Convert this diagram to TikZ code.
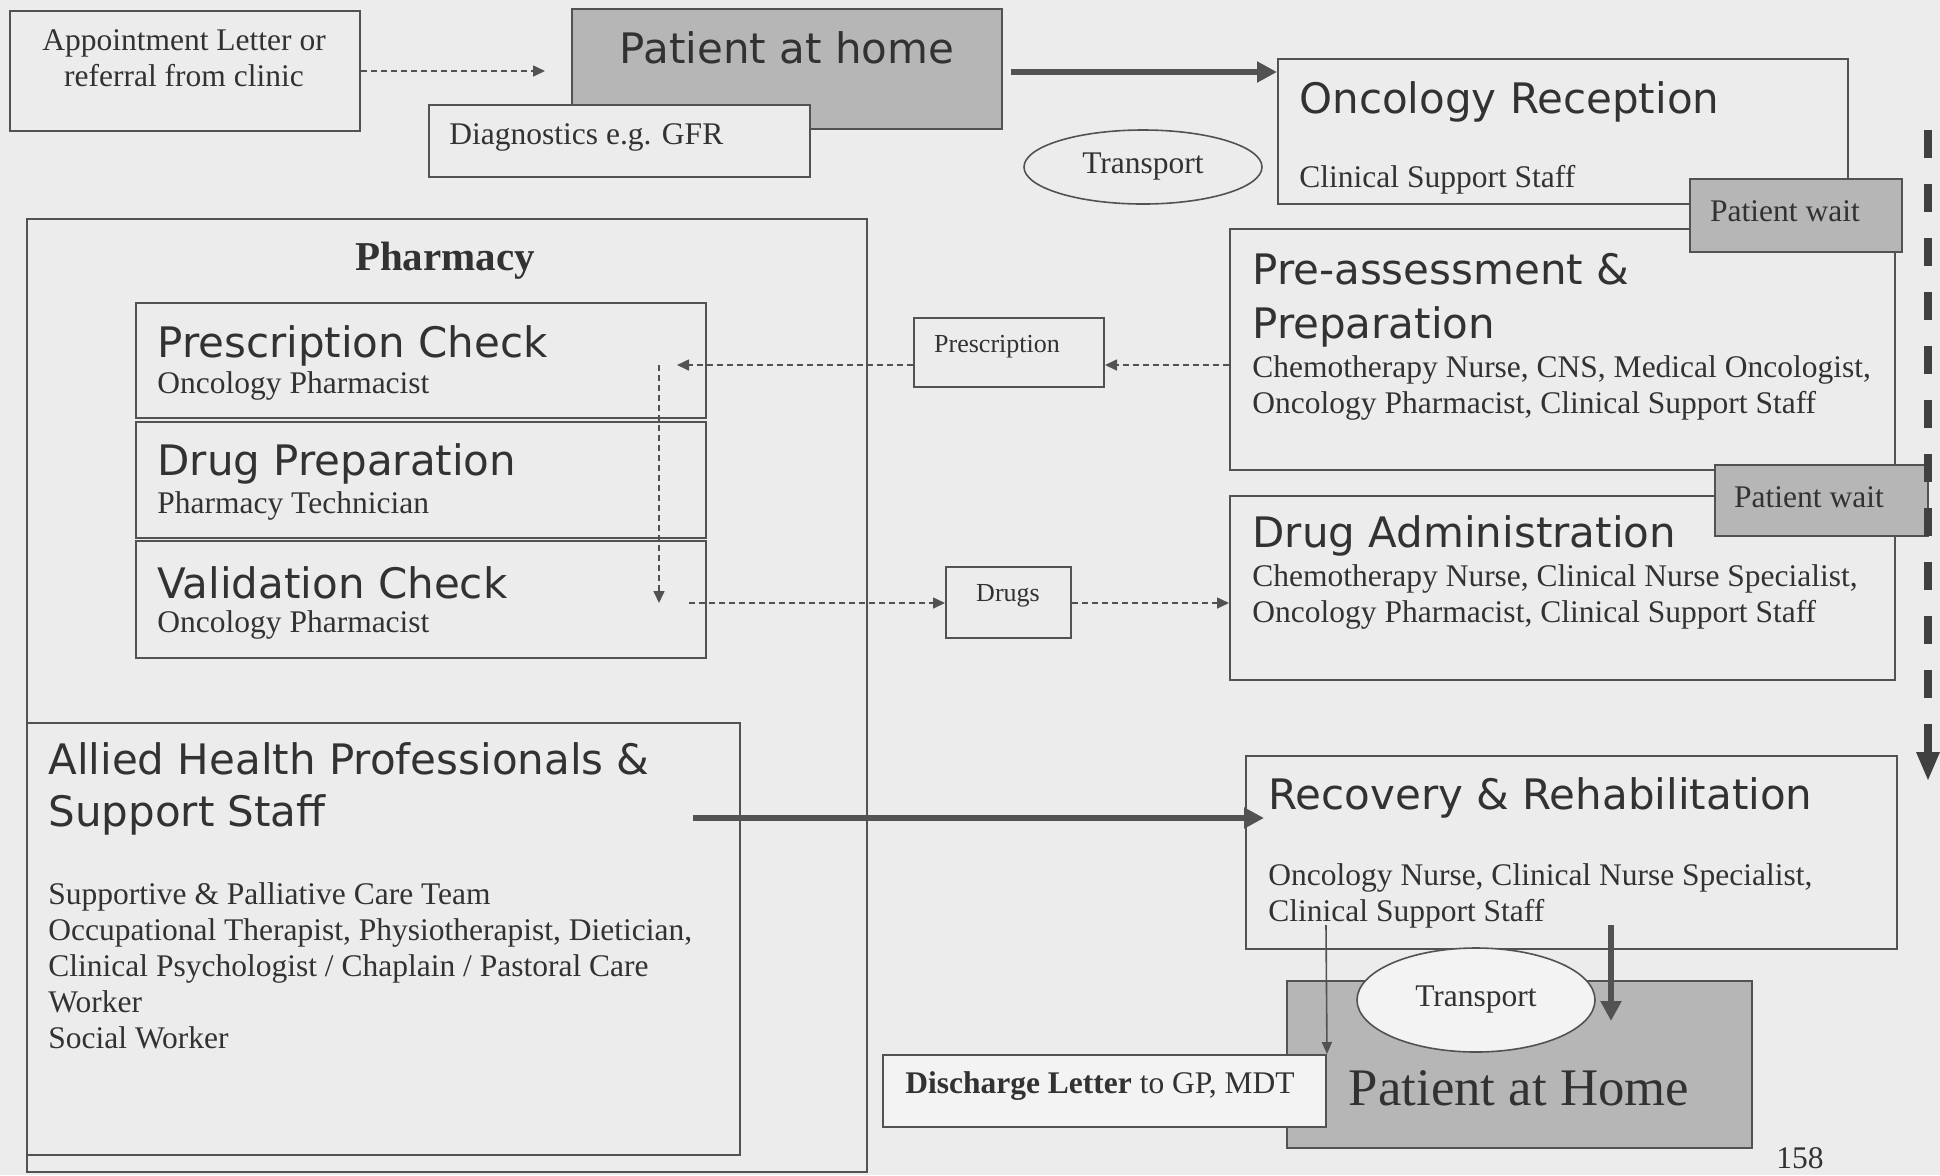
\documentclass[tikz,border=0pt]{standalone}
\usepackage{fontspec}
\setmainfont{Liberation Serif}
\newfontfamily\sansf{DejaVu Sans}
\usetikzlibrary{fit,arrows.meta,shapes.geometric}
\definecolor{paper}{RGB}{236,236,236}
\definecolor{linec}{RGB}{82,82,82}
\definecolor{ink}{RGB}{50,50,50}
\definecolor{grayf}{RGB}{182,182,182}
\definecolor{lightf}{RGB}{243,243,243}
\begin{document}
\begin{tikzpicture}[x=0.5pt,y=-0.5pt,
  box/.style={draw=linec, line width=1pt, fill=paper, inner sep=0pt},
  graybox/.style={box, fill=grayf},
  lightbox/.style={box, fill=lightf},
  ttl/.style={font=\sansf\fontsize{21}{27}\selectfont, text=ink, anchor=west, inner sep=0pt, align=left},
  staff/.style={font=\fontsize{15.75}{18}\selectfont, text=ink, anchor=west, inner sep=0pt, align=left},
  small/.style={font=\fontsize{13}{15}\selectfont, text=ink, inner sep=0pt},
  plain/.style={font=\fontsize{15.75}{18}\selectfont, text=ink, inner sep=0pt, align=center},
  thickarrow/.style={draw=linec, line width=3pt, -{Triangle[length=10pt,width=10pt]}},
  thinarrow/.style={draw=linec, line width=0.8pt, -{Triangle[length=6pt,width=5pt]}},
  dasharrow/.style={draw=linec, line width=0.8pt, dash pattern=on 3pt off 2pt, -{Triangle[length=6pt,width=5.5pt]}},
  flowline/.style={draw=black!75, line width=3.6pt, dash pattern=on 14pt off 13pt}
]
\useasboundingbox[fill=paper] (0,0) rectangle (1940,1175);

% ---- top row: referral and patient at home
\node[box, fit={(10,11) (360,131)}] (appt) {};
\node[plain] (appttxt) at (184,58) {Appointment Letter or\\referral from clinic};
\node[graybox, fit={(572,9) (1002,129)}] (home) {};
\node[ttl, anchor=center] (hometxt) at (787,48) {Patient at home};
\node[box, fit={(429,105) (810,177)}] (diag) {};
\node[staff] (diagtxt) at (449,137) {Diagnostics e.g. GFR};
\draw[dasharrow] (appt.east) -- ([xshift=-13pt]appt.east -| home.west);

% ---- reception
\node[box, fit={(1278,59) (1848,204)}] (orec) {};
\node[ttl] (orectxt) at (1299,102) {Oncology Reception};
\node[staff] (orecstaff) at (1299,180) {Clinical Support Staff};
\draw[thickarrow] ([xshift=4pt,yshift=-1.5pt]home.east) -- ([yshift=-1.5pt]home.east -| orec.west);
\node[ellipse, draw=linec, line width=0.8pt, fill=paper, minimum width=119pt, minimum height=37pt, inner sep=0pt, plain] (trans1) at (1143,167) {Transport};

% ---- pre-assessment and drug administration
\node[box, fit={(1230,229) (1895,470)}] (pre) {};
\node[ttl] (pretxt) at (1252,300) {Pre-assessment \&\\Preparation};
\node[staff] (prestaff) at (1252,388) {Chemotherapy Nurse, CNS, Medical Oncologist,\\Oncology Pharmacist, Clinical Support Staff};
\node[graybox, fit={(1690,179) (1902,252)}] (wait1) {};
\node[plain] (wait1txt) at (1785,211) {Patient wait};

\node[box, fit={(1230,496) (1895,680)}] (adm) {};
\node[ttl] (admtxt) at (1252,536) {Drug Administration};
\node[staff] (admstaff) at (1252,597) {Chemotherapy Nurse, Clinical Nurse Specialist,\\Oncology Pharmacist, Clinical Support Staff};
\node[graybox, fit={(1715,465) (1928,536)}] (wait2) {};
\node[plain] (wait2txt) at (1809,497) {Patient wait};

% ---- patient flow down the right side (dashed bar with its own head)
\coordinate (flowtop) at (1928,130);
\coordinate (flowend) at (1928,752);
\coordinate (flowtip) at (1928,780);
\draw[flowline] (flowtop) -- (flowend);
\fill[black!75] ([xshift=-6pt]flowend) -- ([xshift=6pt]flowend) -- (flowtip) -- cycle;

% ---- pharmacy
\node[box, fit={(27,219) (867,1172)}] (pharm) {};
\node[font=\bfseries\fontsize{20.5}{24}\selectfont, text=ink, inner sep=0pt] (pharmtxt) at (445,261) {Pharmacy};
\node[box, line width=1.2pt, fit={(136,303) (706,418)}] (pchk) {};
\node[ttl] (pchktxt) at (157,346) {Prescription Check};
\node[staff] (pchkstaff) at (157,386) {Oncology Pharmacist};
\node[box, line width=1.2pt, fit={(136,422) (706,538)}] (dprep) {};
\node[ttl] (dpreptxt) at (157,464) {Drug Preparation};
\node[staff] (dprepstaff) at (157,506) {Pharmacy Technician};
\node[box, line width=1.2pt, fit={(136,541) (706,658)}] (vchk) {};
\node[ttl] (vchktxt) at (157,583) {Validation Check};
\node[staff] (vchkstaff) at (157,625) {Oncology Pharmacist};

\coordinate (rxrow) at (0,365);
\coordinate (drrow) at (0,603);
\coordinate (pharmin) at (659,365);
\coordinate (pharmout) at (659,603);
\draw[draw=linec, line width=0.8pt, dash pattern=on 3pt off 2pt, -{Triangle[length=6pt,width=5.5pt]}] (pharmin) -- (pharmout);

\node[box, fit={(914,318) (1104,387)}] (rx) {};
\node[small] (rxtxt) at (997,347) {Prescription};
\draw[dasharrow] (pre.west |- rxrow) -- (rx.east |- rxrow);
\draw[dasharrow] (rx.west |- rxrow) -- ([xshift=9pt]pharmin);

\node[box, fit={(946,567) (1071,638)}] (drugs) {};
\node[small] (drugstxt) at (1008,596) {Drugs};
\draw[dasharrow] ([xshift=15pt]pharmout) -- (drugs.west |- drrow);
\draw[dasharrow] (drugs.east |- drrow) -- (adm.west |- drrow);

% ---- allied health professionals
\node[box, fit={(27,723) (740,1155)}] (ahp) {};
\node[ttl, font=\sansf\fontsize{21}{26}\selectfont] (ahptxt) at (48,789) {Allied Health Professionals \&\\Support Staff};
\node[staff] (ahpstaff) at (48,966) {Supportive \& Palliative Care Team\\Occupational Therapist, Physiotherapist, Dietician,\\Clinical Psychologist / Chaplain / Pastoral Care\\Worker\\Social Worker};

% ---- recovery and discharge
\node[box, fit={(1246,756) (1897,949)}] (rcv) {};
\node[ttl] (rcvtxt) at (1268,798) {Recovery \& Rehabilitation};
\node[staff] (rcvstaff) at (1268,896) {Oncology Nurse, Clinical Nurse Specialist,\\Clinical Support Staff};
\coordinate (ahpout) at (693,818);
\draw[thickarrow] (ahpout) -- ([xshift=9.5pt]ahpout -| rcv.west);

\node[graybox, fit={(1287,981) (1752,1148)}] (homeb) {};
\node[font=\fontsize{26.4}{30}\selectfont, text=ink, inner sep=0pt] (homebtxt) at (1519,1088) {Patient at Home};
\node[ellipse, draw=linec, line width=0.8pt, fill=lightf, minimum width=119pt, minimum height=52pt, inner sep=0pt, plain] (trans2) at (1476,1000) {Transport};
\node[lightbox, fit={(883,1055) (1326,1127)}] (dis) {};
\node[plain] (distxt) at (1100,1086) {\textbf{Discharge Letter} to GP, MDT};

\coordinate (disstart) at (1326,925);
\draw[thinarrow] (disstart) -- (dis.north east);
\coordinate (homestart) at (1611,925);
\coordinate (homeend) at (1611,1021);
\draw[thickarrow] (homestart) -- (homeend);

\node[plain] (pageno) at (1800,1158) {158};
\end{tikzpicture}
\end{document}
